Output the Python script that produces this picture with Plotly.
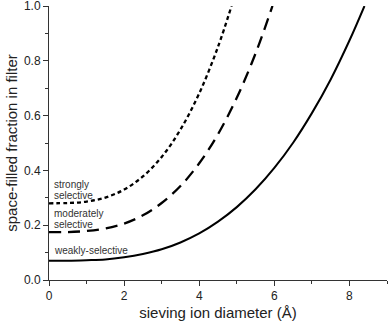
import plotly.graph_objects as go

# sieving ion diameter (Å)
x_weak = [0, 0.5, 1, 1.5, 2, 2.5, 3, 3.5, 4, 4.5, 5, 5.5, 6, 6.5, 7, 7.5, 8, 8.4]
y_weak = [0.070, 0.070, 0.072, 0.075, 0.083, 0.095, 0.112, 0.137, 0.170, 0.213,
          0.266, 0.331, 0.409, 0.501, 0.609, 0.732, 0.874, 1.000]

x_mod = [0, 0.5, 1, 1.5, 2, 2.5, 3, 3.5, 4, 4.5, 5, 5.5, 5.95]
y_mod = [0.175, 0.175, 0.179, 0.188, 0.206, 0.236, 0.281, 0.343, 0.426, 0.532,
         0.665, 0.827, 1.000]

x_strong = [0, 0.5, 1, 1.5, 2, 2.5, 3, 3.5, 4, 4.5, 4.86]
y_strong = [0.280, 0.281, 0.286, 0.301, 0.330, 0.378, 0.449, 0.549, 0.681, 0.851, 1.000]

label_lines = ["strongly", "selective", "moderately", "selective", "weakly-selective"]
label_y = [0.349, 0.308, 0.243, 0.202, 0.109]

FONT = "Liberation Sans, Arial, sans-serif"

fig = go.Figure()
fig.add_trace(go.Scatter(x=x_weak, y=y_weak, mode="lines", line_shape="spline",
                         line=dict(color="black", width=2), showlegend=False))
fig.add_trace(go.Scatter(x=x_mod, y=y_mod, mode="lines", line_shape="spline",
                         line=dict(color="black", width=2.3, dash="12px,7px"), showlegend=False))
fig.add_trace(go.Scatter(x=x_strong, y=y_strong, mode="lines", line_shape="spline",
                         line=dict(color="black", width=2.3, dash="4px,3px"), showlegend=False))

for t, yy in zip(label_lines, label_y):
    fig.add_annotation(x=0.08, y=yy, text=t, showarrow=False, xanchor="left", yanchor="middle",
                       align="left", font=dict(family=FONT, size=10, color="#333"))

fig.update_layout(
    width=388, height=326,
    margin=dict(l=49, r=1, t=6, b=46, autoexpand=False),
    paper_bgcolor="white", plot_bgcolor="white",
    font=dict(family=FONT, color="#222"),
)
fig.update_xaxes(range=[0, 9], showgrid=False, zeroline=False, showline=True, automargin=False,
                 linecolor="#333", linewidth=1, ticks="outside", ticklen=5, tickcolor="#333",
                 tickvals=[0, 2, 4, 6, 8], tickfont=dict(size=12, family=FONT),
                 ticklabeloverflow="allow",
                 minor=dict(ticks="outside", ticklen=3, tickvals=[1, 3, 5, 7, 9], tickcolor="#333"),
                 title=dict(text="sieving ion diameter (Å)", font=dict(size=15, family=FONT), standoff=5))
fig.update_yaxes(range=[0, 1.0], showgrid=False, zeroline=False, showline=True, automargin=False,
                 linecolor="#333", linewidth=1, ticks="outside", ticklen=5, tickcolor="#333",
                 tickvals=[0, 0.2, 0.4, 0.6, 0.8, 1.0], tickformat=".1f",
                 tickfont=dict(size=12, family=FONT), ticklabeloverflow="allow",
                 minor=dict(ticks="outside", ticklen=3, tickvals=[0.1, 0.3, 0.5, 0.7, 0.9], tickcolor="#333"),
                 title=dict(text="space-filled fraction in filter", font=dict(size=15, family=FONT), standoff=2))

fig.write_html("out.html", config={"displayModeBar": False},
               post_script="document.body.style.margin='0';document.body.style.overflow='hidden';")
